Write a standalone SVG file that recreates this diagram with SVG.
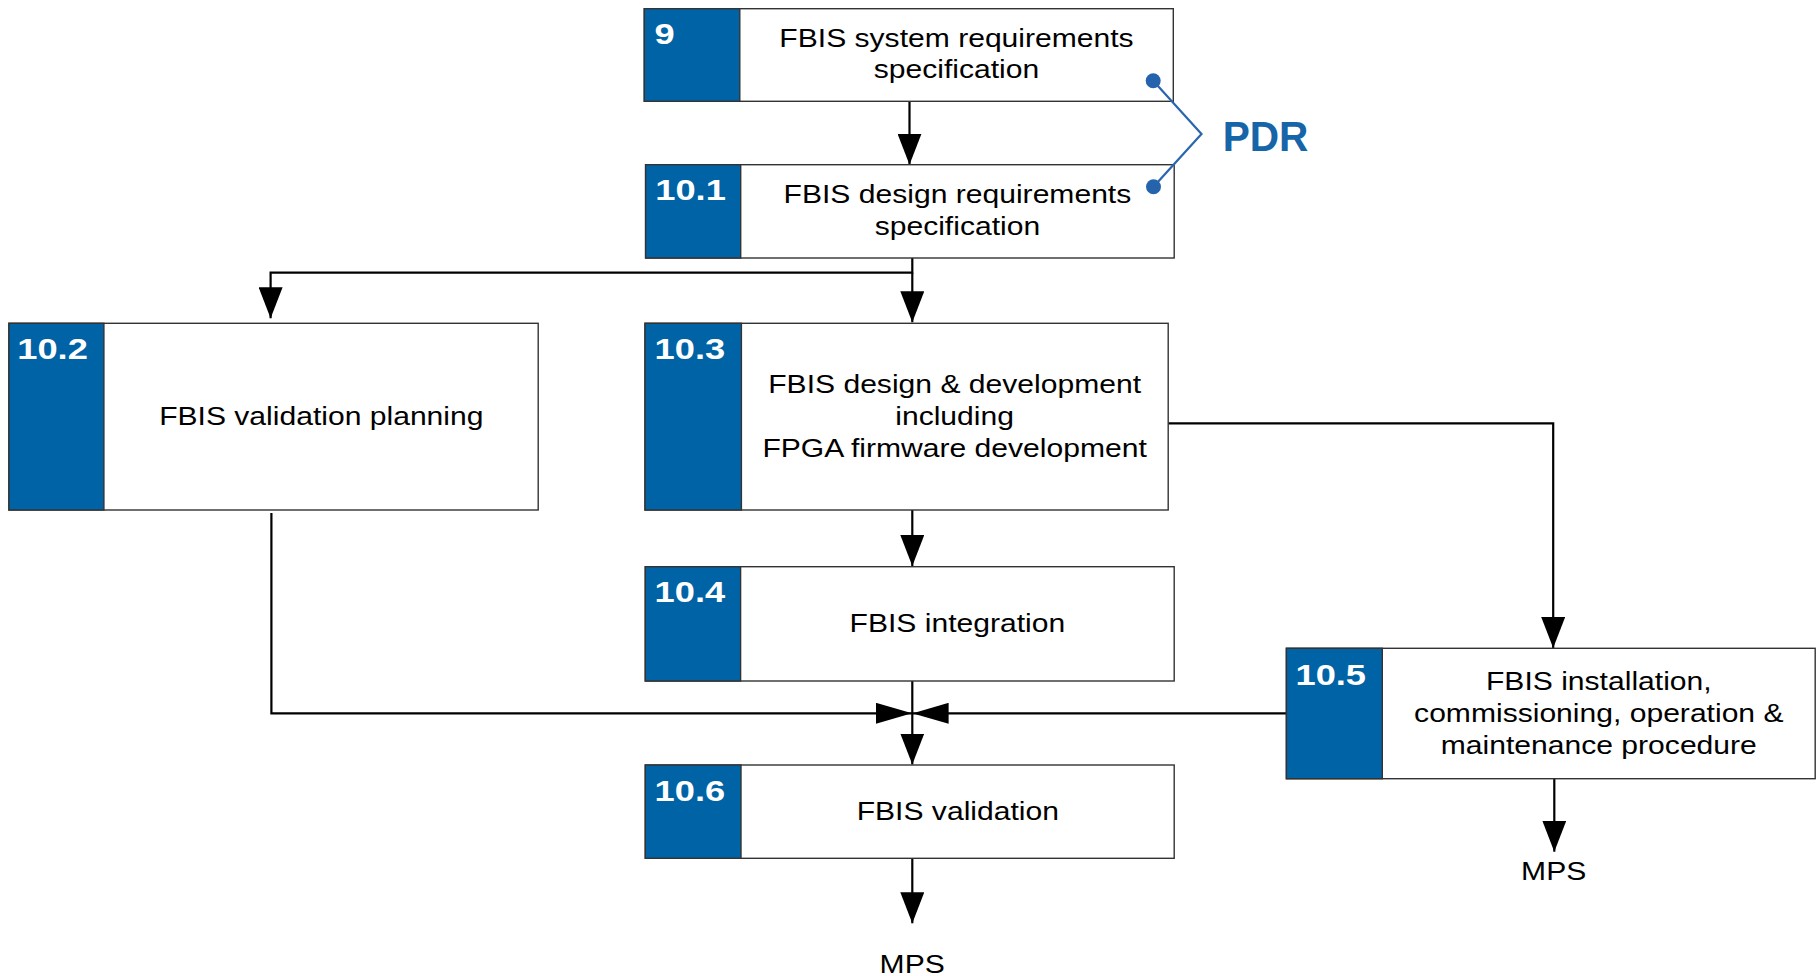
<svg xmlns="http://www.w3.org/2000/svg" width="1817" height="976" viewBox="0 0 1817 976">
<style>
.box{fill:#ffffff;stroke:#333333;stroke-width:1.4}
.blk{fill:#0063a6;stroke:#333333;stroke-width:1.4}
.t{font-family:"Liberation Sans",Arial,sans-serif;font-size:25.5px;fill:#000000;text-anchor:middle}
.n{font-family:"Liberation Sans",Arial,sans-serif;font-size:29px;font-weight:bold;fill:#ffffff}
.c{fill:none;stroke:#000000;stroke-width:2.2}
.pdr{fill:none;stroke:#2a66ad;stroke-width:2.2}
</style>
<defs>
<marker id="av" markerUnits="userSpaceOnUse" markerWidth="31" markerHeight="24" refX="31" refY="12" orient="auto" viewBox="0 0 31 24">
<path d="M0,0 L31,12 L0,24 z" fill="#000000"/>
</marker>
<marker id="ah" markerUnits="userSpaceOnUse" markerWidth="36" markerHeight="21" refX="36" refY="10.5" orient="auto" viewBox="0 0 36 21">
<path d="M0,0 L36,10.5 L0,21 z" fill="#000000"/>
</marker>
</defs>

<g id="connectors">
<path class="c" d="M909.5,101.3 V164.7" marker-end="url(#av)"/>
<path class="c" d="M912.3,258 V272.7 H270.6 V318.3" marker-end="url(#av)"/>
<path class="c" d="M912.3,272.7 V322.3" marker-end="url(#av)"/>
<path class="c" d="M1168.2,423.3 H1553.2 V648" marker-end="url(#av)"/>
<path class="c" d="M912.3,510 V566" marker-end="url(#av)"/>
<path class="c" d="M271.4,513 V713.3 H912" marker-end="url(#ah)"/>
<path class="c" d="M1286.4,713.3 H912.6" marker-end="url(#ah)"/>
<path class="c" d="M912.3,681 V764.5" marker-end="url(#av)"/>
<path class="c" d="M912.3,858.3 V923.3" marker-end="url(#av)"/>
<path class="c" d="M1554.3,778.7 V851.7" marker-end="url(#av)"/>
</g>

<g id="n9">
<rect class="box" x="644.3" y="8.7" width="529" height="92.6"/>
<rect class="blk" x="644.3" y="8.7" width="95.5" height="92.6"/>
<text class="n" transform="translate(654.6,44.3) scale(1.25,1)">9</text>
<text class="t" transform="translate(956.5,46.7) scale(1.18,1)">FBIS system requirements<tspan x="0" dy="31.6">specification</tspan></text>
</g>

<g id="n10_1">
<rect class="box" x="645.6" y="164.7" width="528.6" height="93.3"/>
<rect class="blk" x="645.6" y="164.7" width="95.1" height="93.3"/>
<text class="n" transform="translate(655.3,200) scale(1.25,1)">10.1</text>
<text class="t" transform="translate(957.4,203.3) scale(1.18,1)">FBIS design requirements<tspan x="0" dy="31.7">specification</tspan></text>
</g>

<g id="n10_2">
<rect class="box" x="8.9" y="323.3" width="529.3" height="186.7"/>
<rect class="blk" x="8.9" y="323.3" width="95" height="186.7"/>
<text class="n" transform="translate(17.3,359.3) scale(1.25,1)">10.2</text>
<text class="t" transform="translate(321.3,425.3) scale(1.18,1)">FBIS validation planning</text>
</g>

<g id="n10_3">
<rect class="box" x="645" y="323.3" width="523.2" height="186.7"/>
<rect class="blk" x="645" y="323.3" width="96.4" height="186.7"/>
<text class="n" transform="translate(654.6,359.3) scale(1.25,1)">10.3</text>
<text class="t" transform="translate(954.6,392.7) scale(1.18,1)">FBIS design &amp; development<tspan x="0" dy="32">including</tspan><tspan x="0" dy="32">FPGA firmware development</tspan></text>
</g>

<g id="n10_4">
<rect class="box" x="645.3" y="566.7" width="528.9" height="114.3"/>
<rect class="blk" x="645.3" y="566.7" width="95.3" height="114.3"/>
<text class="n" transform="translate(654.6,602.3) scale(1.25,1)">10.4</text>
<text class="t" transform="translate(957.4,631.7) scale(1.18,1)">FBIS integration</text>
</g>

<g id="n10_5">
<rect class="box" x="1286.4" y="648.3" width="528.8" height="130.4"/>
<rect class="blk" x="1286.4" y="648.3" width="95.9" height="130.4"/>
<text class="n" transform="translate(1295.5,685) scale(1.25,1)">10.5</text>
<text class="t" transform="translate(1598.8,690) scale(1.18,1)">FBIS installation,<tspan x="0" dy="32">commissioning, operation &amp;</tspan><tspan x="0" dy="32">maintenance procedure</tspan></text>
</g>

<g id="n10_6">
<rect class="box" x="645.3" y="765" width="528.9" height="93.3"/>
<rect class="blk" x="645.3" y="765" width="95.7" height="93.3"/>
<text class="n" transform="translate(654.6,801) scale(1.25,1)">10.6</text>
<text class="t" transform="translate(957.8,820) scale(1.18,1)">FBIS validation</text>
</g>

<g id="mps1">
<text class="t" transform="translate(912.2,972.5) scale(1.18,1)">MPS</text>
</g>
<g id="mps2">
<text class="t" transform="translate(1553.7,880) scale(1.18,1)">MPS</text>
</g>

<g id="pdr">
<path class="pdr" d="M1153.2,80.7 L1201.5,134 L1153.5,186.7"/>
<circle cx="1153.2" cy="80.7" r="7.5" fill="#2563ad"/>
<circle cx="1153.5" cy="186.7" r="7.5" fill="#2563ad"/>
<text x="1222.7" y="150.7" font-family="'Liberation Sans',Arial,sans-serif" font-size="43" font-weight="bold" fill="#1565a8" textLength="85.7" lengthAdjust="spacingAndGlyphs">PDR</text>
</g>
</svg>
